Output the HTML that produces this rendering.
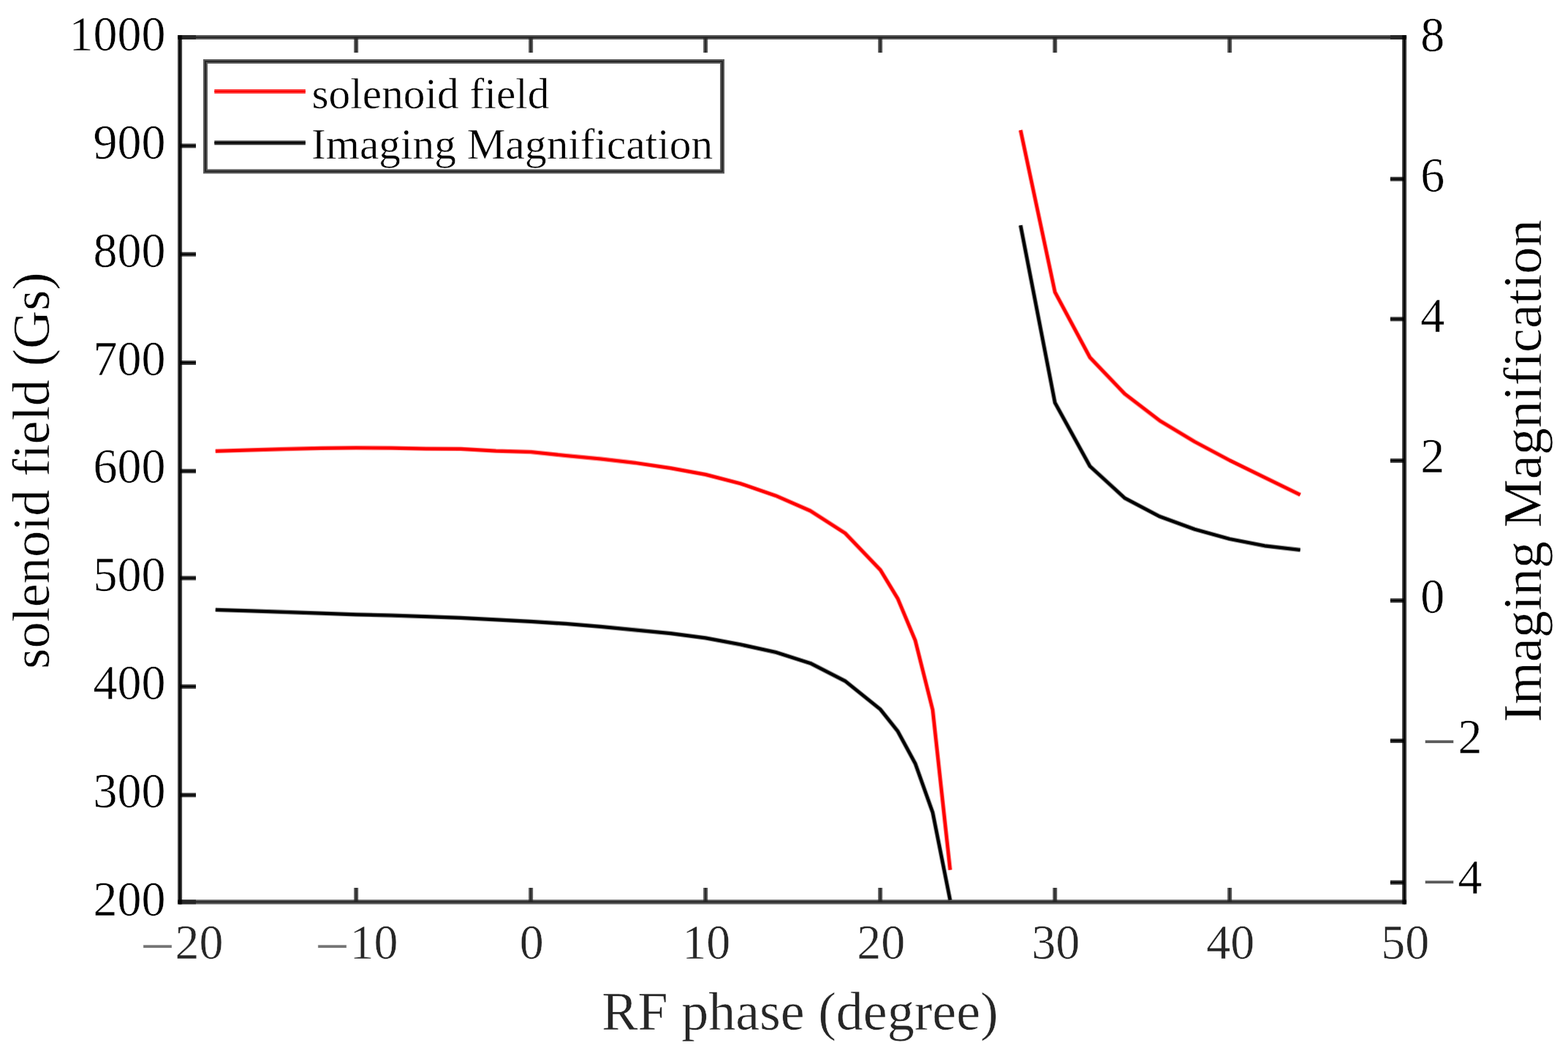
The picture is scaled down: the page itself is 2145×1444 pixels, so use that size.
<!DOCTYPE html>
<html lang="en">
<head>
<meta charset="utf-8">
<title>solenoid field and Imaging Magnification vs RF phase</title>
<style>
html,body{margin:0;padding:0;background:#fff;}
body{width:2145px;height:1444px;overflow:hidden;}
svg{display:block;}
text{font-family:"Liberation Serif",serif;stroke:#ffffff;stroke-width:0.5px;stroke-linejoin:round;}
.tk{font-size:66px;}
.lab{font-size:74px;}
.leg{font-size:59.4px;}
</style>
</head>
<body>
<svg width="2145" height="1444" viewBox="0 0 2145 1444">
<rect x="0" y="0" width="2145" height="1444" fill="#ffffff"/>

<g id="curves">
<polyline points="294.8,616.8 343.8,615.4 391.5,614.0 439.4,612.8 487.1,612.4 534.9,612.6 582.8,613.6 630.5,613.9 678.4,616.6 726.1,618.0 773.9,623.0 821.7,627.5 869.5,633.0 917.3,640.1 965.1,648.9 1012.9,661.2 1060.8,677.7 1108.5,698.5 1156.3,729.2 1204.2,779.2 1228.0,818.3 1252.0,875.6 1275.9,970.7 1299.8,1189.6" fill="none" stroke="#ff0000" stroke-width="6.3" stroke-opacity="0.45" stroke-linejoin="round" stroke-linecap="butt"/><polyline points="294.8,616.8 343.8,615.4 391.5,614.0 439.4,612.8 487.1,612.4 534.9,612.6 582.8,613.6 630.5,613.9 678.4,616.6 726.1,618.0 773.9,623.0 821.7,627.5 869.5,633.0 917.3,640.1 965.1,648.9 1012.9,661.2 1060.8,677.7 1108.5,698.5 1156.3,729.2 1204.2,779.2 1228.0,818.3 1252.0,875.6 1275.9,970.7 1299.8,1189.6" fill="none" stroke="#ff0000" stroke-width="4.2" stroke-linejoin="round" stroke-linecap="butt"/>
<polyline points="1396.1,178.0 1443.2,399.6 1491.0,488.8 1538.8,538.7 1586.5,575.2 1634.3,604.0 1682.2,629.5 1730.0,652.8 1778.7,676.7" fill="none" stroke="#ff0000" stroke-width="6.3" stroke-opacity="0.45" stroke-linejoin="round" stroke-linecap="butt"/><polyline points="1396.1,178.0 1443.2,399.6 1491.0,488.8 1538.8,538.7 1586.5,575.2 1634.3,604.0 1682.2,629.5 1730.0,652.8 1778.7,676.7" fill="none" stroke="#ff0000" stroke-width="4.2" stroke-linejoin="round" stroke-linecap="butt"/>
<polyline points="294.8,833.8 343.8,835.4 391.5,837.0 439.4,838.6 487.1,840.3 534.9,841.5 582.8,843.1 630.5,844.9 678.4,847.3 726.1,849.9 773.9,852.9 821.7,856.8 869.5,861.5 917.3,866.1 965.1,872.4 1012.9,881.3 1060.8,891.8 1108.5,906.9 1156.3,931.4 1204.2,969.9 1228.0,999.7 1252.0,1043.9 1275.9,1111.0 1299.8,1231.0" fill="none" stroke="#000000" stroke-width="6.3" stroke-opacity="0.45" stroke-linejoin="round" stroke-linecap="butt"/><polyline points="294.8,833.8 343.8,835.4 391.5,837.0 439.4,838.6 487.1,840.3 534.9,841.5 582.8,843.1 630.5,844.9 678.4,847.3 726.1,849.9 773.9,852.9 821.7,856.8 869.5,861.5 917.3,866.1 965.1,872.4 1012.9,881.3 1060.8,891.8 1108.5,906.9 1156.3,931.4 1204.2,969.9 1228.0,999.7 1252.0,1043.9 1275.9,1111.0 1299.8,1231.0" fill="none" stroke="#000000" stroke-width="4.2" stroke-linejoin="round" stroke-linecap="butt"/>
<polyline points="1396.1,308.2 1443.2,550.8 1491.0,637.5 1538.8,681.2 1586.5,706.3 1634.3,723.7 1682.2,737.0 1730.0,746.3 1778.7,752.0" fill="none" stroke="#000000" stroke-width="6.3" stroke-opacity="0.45" stroke-linejoin="round" stroke-linecap="butt"/><polyline points="1396.1,308.2 1443.2,550.8 1491.0,637.5 1538.8,681.2 1586.5,706.3 1634.3,723.7 1682.2,737.0 1730.0,746.3 1778.7,752.0" fill="none" stroke="#000000" stroke-width="4.2" stroke-linejoin="round" stroke-linecap="butt"/>
</g>
<g id="axes" fill="none">
<line x1="487.15" y1="1233.35" x2="487.15" y2="1214.00" stroke="#262626" stroke-width="6.0" stroke-opacity="0.76"/><line x1="487.15" y1="1233.35" x2="487.15" y2="1214.00" stroke="#262626" stroke-width="2.0"/>
<line x1="487.15" y1="51.00" x2="487.15" y2="72.00" stroke="#262626" stroke-width="6.0" stroke-opacity="0.76"/><line x1="487.15" y1="51.00" x2="487.15" y2="72.00" stroke="#262626" stroke-width="2.0"/>
<line x1="726.15" y1="1233.35" x2="726.15" y2="1214.00" stroke="#262626" stroke-width="6.0" stroke-opacity="0.76"/><line x1="726.15" y1="1233.35" x2="726.15" y2="1214.00" stroke="#262626" stroke-width="2.0"/>
<line x1="726.15" y1="51.00" x2="726.15" y2="72.00" stroke="#262626" stroke-width="6.0" stroke-opacity="0.76"/><line x1="726.15" y1="51.00" x2="726.15" y2="72.00" stroke="#262626" stroke-width="2.0"/>
<line x1="965.15" y1="1233.35" x2="965.15" y2="1214.00" stroke="#262626" stroke-width="6.0" stroke-opacity="0.76"/><line x1="965.15" y1="1233.35" x2="965.15" y2="1214.00" stroke="#262626" stroke-width="2.0"/>
<line x1="965.15" y1="51.00" x2="965.15" y2="72.00" stroke="#262626" stroke-width="6.0" stroke-opacity="0.76"/><line x1="965.15" y1="51.00" x2="965.15" y2="72.00" stroke="#262626" stroke-width="2.0"/>
<line x1="1204.15" y1="1233.35" x2="1204.15" y2="1214.00" stroke="#262626" stroke-width="6.0" stroke-opacity="0.76"/><line x1="1204.15" y1="1233.35" x2="1204.15" y2="1214.00" stroke="#262626" stroke-width="2.0"/>
<line x1="1204.15" y1="51.00" x2="1204.15" y2="72.00" stroke="#262626" stroke-width="6.0" stroke-opacity="0.76"/><line x1="1204.15" y1="51.00" x2="1204.15" y2="72.00" stroke="#262626" stroke-width="2.0"/>
<line x1="1443.15" y1="1233.35" x2="1443.15" y2="1214.00" stroke="#262626" stroke-width="6.0" stroke-opacity="0.76"/><line x1="1443.15" y1="1233.35" x2="1443.15" y2="1214.00" stroke="#262626" stroke-width="2.0"/>
<line x1="1443.15" y1="51.00" x2="1443.15" y2="72.00" stroke="#262626" stroke-width="6.0" stroke-opacity="0.76"/><line x1="1443.15" y1="51.00" x2="1443.15" y2="72.00" stroke="#262626" stroke-width="2.0"/>
<line x1="1682.15" y1="1233.35" x2="1682.15" y2="1214.00" stroke="#262626" stroke-width="6.0" stroke-opacity="0.76"/><line x1="1682.15" y1="1233.35" x2="1682.15" y2="1214.00" stroke="#262626" stroke-width="2.0"/>
<line x1="1682.15" y1="51.00" x2="1682.15" y2="72.00" stroke="#262626" stroke-width="6.0" stroke-opacity="0.76"/><line x1="1682.15" y1="51.00" x2="1682.15" y2="72.00" stroke="#262626" stroke-width="2.0"/>
<line x1="246.10" y1="1233.35" x2="268.00" y2="1233.35" stroke="#000" stroke-width="6.0" stroke-opacity="0.76"/><line x1="246.10" y1="1233.35" x2="268.00" y2="1233.35" stroke="#000" stroke-width="2.0"/>
<line x1="246.10" y1="1087.20" x2="268.00" y2="1087.20" stroke="#000" stroke-width="6.0" stroke-opacity="0.76"/><line x1="246.10" y1="1087.20" x2="268.00" y2="1087.20" stroke="#000" stroke-width="2.0"/>
<line x1="246.10" y1="938.80" x2="268.00" y2="938.80" stroke="#000" stroke-width="6.0" stroke-opacity="0.76"/><line x1="246.10" y1="938.80" x2="268.00" y2="938.80" stroke="#000" stroke-width="2.0"/>
<line x1="246.10" y1="790.50" x2="268.00" y2="790.50" stroke="#000" stroke-width="6.0" stroke-opacity="0.76"/><line x1="246.10" y1="790.50" x2="268.00" y2="790.50" stroke="#000" stroke-width="2.0"/>
<line x1="246.10" y1="644.20" x2="268.00" y2="644.20" stroke="#000" stroke-width="6.0" stroke-opacity="0.76"/><line x1="246.10" y1="644.20" x2="268.00" y2="644.20" stroke="#000" stroke-width="2.0"/>
<line x1="246.10" y1="496.00" x2="268.00" y2="496.00" stroke="#000" stroke-width="6.0" stroke-opacity="0.76"/><line x1="246.10" y1="496.00" x2="268.00" y2="496.00" stroke="#000" stroke-width="2.0"/>
<line x1="246.10" y1="347.70" x2="268.00" y2="347.70" stroke="#000" stroke-width="6.0" stroke-opacity="0.76"/><line x1="246.10" y1="347.70" x2="268.00" y2="347.70" stroke="#000" stroke-width="2.0"/>
<line x1="246.10" y1="199.40" x2="268.00" y2="199.40" stroke="#000" stroke-width="6.0" stroke-opacity="0.76"/><line x1="246.10" y1="199.40" x2="268.00" y2="199.40" stroke="#000" stroke-width="2.0"/>
<line x1="246.10" y1="51.00" x2="268.00" y2="51.00" stroke="#000" stroke-width="6.0" stroke-opacity="0.76"/><line x1="246.10" y1="51.00" x2="268.00" y2="51.00" stroke="#000" stroke-width="2.0"/>
<line x1="1921.10" y1="1206.70" x2="1901.90" y2="1206.70" stroke="#000" stroke-width="6.0" stroke-opacity="0.76"/><line x1="1921.10" y1="1206.70" x2="1901.90" y2="1206.70" stroke="#000" stroke-width="2.0"/>
<line x1="1921.10" y1="1013.00" x2="1901.90" y2="1013.00" stroke="#000" stroke-width="6.0" stroke-opacity="0.76"/><line x1="1921.10" y1="1013.00" x2="1901.90" y2="1013.00" stroke="#000" stroke-width="2.0"/>
<line x1="1921.10" y1="821.20" x2="1901.90" y2="821.20" stroke="#000" stroke-width="6.0" stroke-opacity="0.76"/><line x1="1921.10" y1="821.20" x2="1901.90" y2="821.20" stroke="#000" stroke-width="2.0"/>
<line x1="1921.10" y1="629.90" x2="1901.90" y2="629.90" stroke="#000" stroke-width="6.0" stroke-opacity="0.76"/><line x1="1921.10" y1="629.90" x2="1901.90" y2="629.90" stroke="#000" stroke-width="2.0"/>
<line x1="1921.10" y1="436.30" x2="1901.90" y2="436.30" stroke="#000" stroke-width="6.0" stroke-opacity="0.76"/><line x1="1921.10" y1="436.30" x2="1901.90" y2="436.30" stroke="#000" stroke-width="2.0"/>
<line x1="1921.10" y1="244.80" x2="1901.90" y2="244.80" stroke="#000" stroke-width="6.0" stroke-opacity="0.76"/><line x1="1921.10" y1="244.80" x2="1901.90" y2="244.80" stroke="#000" stroke-width="2.0"/>
<line x1="1921.10" y1="51.00" x2="1901.90" y2="51.00" stroke="#000" stroke-width="6.0" stroke-opacity="0.76"/><line x1="1921.10" y1="51.00" x2="1901.90" y2="51.00" stroke="#000" stroke-width="2.0"/>
<line x1="243.10" y1="51.00" x2="1924.10" y2="51.00" stroke="#262626" stroke-width="6.0" stroke-opacity="0.76"/><line x1="243.10" y1="51.00" x2="1924.10" y2="51.00" stroke="#262626" stroke-width="2.0"/>
<line x1="243.10" y1="1233.35" x2="1924.10" y2="1233.35" stroke="#262626" stroke-width="6.4" stroke-opacity="0.76"/><line x1="243.10" y1="1233.35" x2="1924.10" y2="1233.35" stroke="#262626" stroke-width="2.0"/>
<line x1="246.10" y1="48.00" x2="246.10" y2="1236.55" stroke="#000" stroke-width="6.0" stroke-opacity="0.76"/><line x1="246.10" y1="48.00" x2="246.10" y2="1236.55" stroke="#000" stroke-width="2.0"/>
<line x1="1921.10" y1="48.00" x2="1921.10" y2="1236.55" stroke="#000" stroke-width="6.0" stroke-opacity="0.76"/><line x1="1921.10" y1="48.00" x2="1921.10" y2="1236.55" stroke="#000" stroke-width="2.0"/>
</g>
<g id="text">
<g id="xticklabels">
<text class="tk" fill="#262626" text-anchor="start" transform="translate(239.55,1310.50) scale(1,1.03)"><tspan x="-47.97" dy="12.02" font-size="84.3" fill="#747474">−</tspan><tspan x="0" dy="-12.02">20</tspan></text>
<text class="tk" fill="#262626" text-anchor="start" transform="translate(478.55,1310.50) scale(1,1.03)"><tspan x="-47.97" dy="12.02" font-size="84.3" fill="#747474">−</tspan><tspan x="0" dy="-12.02">10</tspan></text>
<text class="tk" fill="#262626" text-anchor="middle" transform="translate(727.35,1310.50) scale(1,1.03)">0</text>
<text class="tk" fill="#262626" text-anchor="middle" transform="translate(966.35,1310.50) scale(1,1.03)">10</text>
<text class="tk" fill="#262626" text-anchor="middle" transform="translate(1205.35,1310.50) scale(1,1.03)">20</text>
<text class="tk" fill="#262626" text-anchor="middle" transform="translate(1444.35,1310.50) scale(1,1.03)">30</text>
<text class="tk" fill="#262626" text-anchor="middle" transform="translate(1683.35,1310.50) scale(1,1.03)">40</text>
<text class="tk" fill="#262626" text-anchor="middle" transform="translate(1922.35,1310.50) scale(1,1.03)">50</text>
</g>
<g id="ylticklabels">
<text class="tk" fill="#000" text-anchor="end" transform="translate(226.50,1251.52) scale(1,1.03)">200</text>
<text class="tk" fill="#000" text-anchor="end" transform="translate(226.50,1103.73) scale(1,1.03)">300</text>
<text class="tk" fill="#000" text-anchor="end" transform="translate(226.50,955.94) scale(1,1.03)">400</text>
<text class="tk" fill="#000" text-anchor="end" transform="translate(226.50,808.15) scale(1,1.03)">500</text>
<text class="tk" fill="#000" text-anchor="end" transform="translate(226.50,660.36) scale(1,1.03)">600</text>
<text class="tk" fill="#000" text-anchor="end" transform="translate(226.50,512.57) scale(1,1.03)">700</text>
<text class="tk" fill="#000" text-anchor="end" transform="translate(226.50,364.78) scale(1,1.03)">800</text>
<text class="tk" fill="#000" text-anchor="end" transform="translate(226.50,216.99) scale(1,1.03)">900</text>
<text class="tk" fill="#000" text-anchor="end" transform="translate(226.50,69.20) scale(1,1.03)">1000</text>
</g>
<g id="yrticklabels">
<text class="tk" fill="#000" text-anchor="start" transform="translate(1994.60,1222.10) scale(1,1.03)"><tspan x="-49.61" dy="12.45" font-size="84.3" fill="#5a5a5a">−</tspan><tspan x="0" dy="-12.45">4</tspan></text>
<text class="tk" fill="#000" text-anchor="start" transform="translate(1994.60,1030.00) scale(1,1.03)"><tspan x="-49.61" dy="12.45" font-size="84.3" fill="#5a5a5a">−</tspan><tspan x="0" dy="-12.45">2</tspan></text>
<text class="tk" fill="#000" text-anchor="start" transform="translate(1943.30,837.90) scale(1,1.03)">0</text>
<text class="tk" fill="#000" text-anchor="start" transform="translate(1943.30,645.80) scale(1,1.03)">2</text>
<text class="tk" fill="#000" text-anchor="start" transform="translate(1943.30,453.70) scale(1,1.03)">4</text>
<text class="tk" fill="#000" text-anchor="start" transform="translate(1943.30,261.60) scale(1,1.03)">6</text>
<text class="tk" fill="#000" text-anchor="start" transform="translate(1943.30,69.50) scale(1,1.03)">8</text>
</g>
<g id="labels">
<text x="1094.4" y="1407.9" font-size="74" fill="#262626" text-anchor="middle">RF phase (degree)</text>
<text font-size="72.3" fill="#000" text-anchor="middle" transform="translate(67.4,643.6) rotate(-90)">solenoid field (Gs)</text>
<text font-size="74.35" fill="#000" text-anchor="middle" transform="translate(2107.8,644.05) rotate(-90)">Imaging Magnification</text>
</g>
</g>
<g id="legend">
<rect x="281.0" y="84.0" width="707.05" height="150.40" fill="#ffffff" stroke="none"/>
<rect x="281.0" y="84.0" width="707.05" height="150.40" fill="none" stroke="#262626" stroke-width="6" stroke-opacity="0.76"/>
<rect x="281.0" y="84.0" width="707.05" height="150.40" fill="none" stroke="#262626" stroke-width="2"/>
<line x1="293.30" y1="125.00" x2="417.90" y2="125.00" stroke="#ff0000" stroke-width="6.0" stroke-opacity="0.76"/><line x1="293.30" y1="125.00" x2="417.90" y2="125.00" stroke="#ff0000" stroke-width="2.0"/>
<line x1="293.30" y1="195.20" x2="417.90" y2="195.20" stroke="#000000" stroke-width="6.0" stroke-opacity="0.76"/><line x1="293.30" y1="195.20" x2="417.90" y2="195.20" stroke="#000000" stroke-width="2.0"/>
<g id="legendtext">
<text class="leg" x="426.5" y="148.2" fill="#000">solenoid field</text>
<text class="leg" x="426.0" y="216.8" fill="#000">Imaging Magnification</text>
</g>
</g>
</svg>
</body>
</html>
